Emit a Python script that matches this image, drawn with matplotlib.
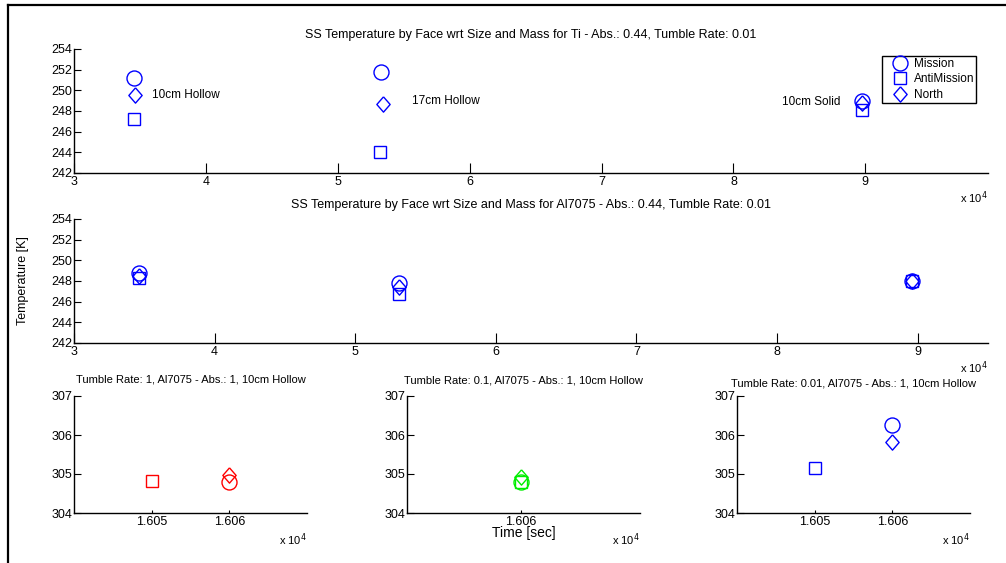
import matplotlib
matplotlib.use('Agg')
import matplotlib.pyplot as plt
from matplotlib.lines import Line2D

plt.rcParams['font.family'] = ['Liberation Sans', 'DejaVu Sans']

faces = ["Mission", "AntiMission", "North"]
diamond = [(0, 1), (0.87, 0), (0, -1), (-0.87, 0), (0, 1)]
markers = ["o", "s", diamond]
msizes = [10.8, 8.6, 11.0]

# top panels: x in units of 1e4 sec
ti_x = [[3.455, 3.455, 3.46], [5.33, 5.32, 5.34], [8.975, 8.975, 8.975]]
ti_T = [[251.15, 247.2, 249.5], [251.75, 244.0, 248.65], [249.0, 248.1, 248.8]]
ti_labels = ["10cm Hollow", "17cm Hollow", "10cm Solid"]
ti_label_xy = [(3.59, 249.5), (5.56, 249.0), (8.37, 248.9)]

al_x = [[3.46, 3.46, 3.46], [5.31, 5.31, 5.31], [8.96, 8.96, 8.96]]
al_T = [[248.8, 248.3, 248.5], [247.8, 246.7, 247.4], [248.0, 248.0, 248.0]]

# bottom panels, tumble rate sweep (x in units of 1e4 sec)
tr_titles = ["Tumble Rate: 1, Al7075 - Abs.: 1, 10cm Hollow",
             "Tumble Rate: 0.1, Al7075 - Abs.: 1, 10cm Hollow",
             "Tumble Rate: 0.01, Al7075 - Abs.: 1, 10cm Hollow"]
tr_colors = ["#ff0000", "#00ee00", "#0000ff"]
tr_x = [[1.606, 1.605, 1.606], [1.606, 1.606, 1.606], [1.606, 1.605, 1.606]]
tr_T = [[304.8, 304.83, 304.97], [304.8, 304.8, 304.93], [306.26, 305.16, 305.83]]
tr_xlim = [(1.604, 1.607), (1.60452, 1.60755), (1.604, 1.607)]
tr_xticks = [[1.605, 1.606], [1.606], [1.605, 1.606]]
tr_tpad = [10, 9, 7]

W, H = 1006, 563
fig = plt.figure(figsize=(W / 100, H / 100), dpi=100)

def px_axes(x0, y0, x1, y1):
    return fig.add_axes([x0 / W, 1 - y1 / H, (x1 - x0) / W, (y1 - y0) / H])

def style(ax, xtl=5):
    for s in ["top", "right"]:
        ax.spines[s].set_visible(False)
    for s in ["left", "bottom"]:
        ax.spines[s].set_linewidth(1.0)
    ax.tick_params(axis='y', direction='in', length=5, width=0.8, labelsize=9, pad=1)
    ax.tick_params(axis='x', direction='in', length=xtl, width=0.8, labelsize=9, pad=2)

ax1 = px_axes(74, 49, 988, 173)
ax2 = px_axes(74, 219, 988, 343)

for ax, xs, Ts, xlim, title in [
        (ax1, ti_x, ti_T, (3, 9.93),
         "SS Temperature by Face wrt Size and Mass for Ti - Abs.: 0.44, Tumble Rate: 0.01"),
        (ax2, al_x, al_T, (3, 9.5),
         "SS Temperature by Face wrt Size and Mass for Al7075 - Abs.: 0.44, Tumble Rate: 0.01")]:
    for k in range(3):
        ax.plot([g[k] for g in xs], [g[k] for g in Ts], linestyle='none',
                marker=markers[k], ms=msizes[k], mfc='none', mec='#0000ff',
                mew=1.0, label=faces[k])
    ax.set_xlim(*xlim)
    ax.set_ylim(242, 254)
    ax.set_yticks(range(242, 255, 2))
    ax.set_xticks(range(3, 10))
    style(ax, xtl=7)
    ax.set_title(title, fontsize=9, pad=8)
    ax.text(1.0, -0.2, r"x 10$^4$", transform=ax.transAxes, ha='right',
            va='center', fontsize=8)

for lab, (lx, ly) in zip(ti_labels, ti_label_xy):
    ax1.text(lx, ly, lab, fontsize=8.5, va='center')

leg = ax1.legend(loc='upper right', bbox_to_anchor=(0.987, 0.944), fontsize=8.5,
                 frameon=True, fancybox=False, framealpha=1, edgecolor='black',
                 borderpad=0.15, labelspacing=0.3, handletextpad=-0.15,
                 handlelength=2.7, borderaxespad=0)
leg.get_frame().set_linewidth(1.0)

ax2.set_ylabel("Temperature [K]", fontsize=9, labelpad=16)

bx = [(74, 307), (407, 640), (737, 970)]
for i, (x0, x1) in enumerate(bx):
    ax = px_axes(x0, 396, x1, 513)
    for k in range(3):
        ax.plot([tr_x[i][k]], [tr_T[i][k]], linestyle='none', marker=markers[k],
                ms=msizes[k], mfc='none', mec=tr_colors[i], mew=1.0)
    ax.set_xlim(*tr_xlim[i])
    ax.set_ylim(304, 307)
    ax.set_yticks([304, 305, 306, 307])
    ax.set_xticks(tr_xticks[i])
    ax.set_xticklabels([f"{v:.3f}" for v in tr_xticks[i]])
    style(ax, xtl=2)
    ax.set_title(tr_titles[i], fontsize=8, pad=tr_tpad[i])
    ax.text(1.0, -0.23, r"x 10$^4$", transform=ax.transAxes, ha='right',
            va='center', fontsize=8)
    if i == 1:
        ax.set_xlabel("Time [sec]", fontsize=10, labelpad=-1)

# figure frame (left and top edges)
fig.add_artist(Line2D([8 / W, 8 / W], [0, 1 - 5 / H], color='black', lw=1.6,
                      transform=fig.transFigure))
fig.add_artist(Line2D([8 / W, 1], [1 - 5 / H, 1 - 5 / H], color='black', lw=1.6,
                      transform=fig.transFigure))

fig.savefig("out.png", dpi=100)
